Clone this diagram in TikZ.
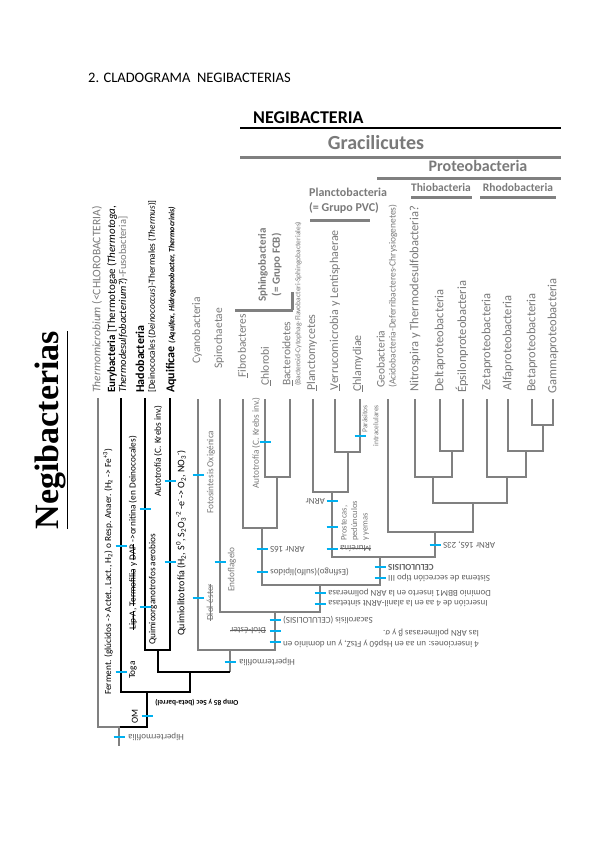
\documentclass[tikz,border=0pt]{standalone}
\usepackage{fontspec}
\setmainfont{Carlito}
\newfontfamily\serifbold{Liberation Serif}

\definecolor{tree gray}{HTML}{808080}
\colorlet{label gray}{tree gray!95!black}
\colorlet{note gray}{black!62}
\definecolor{tick cyan}{HTML}{00B0F0}
\newsavebox\strikebox
\newcommand{\strikeout}[1]{\sbox\strikebox{#1}\rlap{\rule[0.24em]{\wd\strikebox}{0.07em}}\usebox\strikebox}
\tikzset{gline/.style={draw=tree gray, line width=2.8pt},
    kline/.style={draw=black, line width=2.8pt},
    hbar/.style={draw=tree gray, line width=3pt},
    cyantick/.style={draw=tick cyan, line width=2.8pt},
    header/.style={inner sep=0pt, text=label gray},
    leaf/.style={rotate=90, anchor=west, inner sep=0pt, align=left, text=label gray,
        font=\fontsize{12}{12.5}\selectfont},
    basal/.style={leaf, text=black},
    trait/.style={rotate=90, anchor=west, inner sep=0pt, align=left,
        font=\fontsize{9.3}{10}\selectfont},
    flip/.style={rotate=180, anchor=east, inner sep=0pt, align=left, text=note gray,
        font=\fontsize{9}{11.5}\selectfont}}
\newcommand{\ctick}[1]{\draw[cyantick] #1 ++(-5.5,0) -- ++(11,0);}

\begin{document}
\begin{tikzpicture}[x=1pt, y=-1pt]
        \fill[white] (0,0) rectangle (599,848);
        \useasboundingbox (0,0) rectangle (599,848);

        % Title
        \node[anchor=west, inner sep=0pt, font=\fontsize{14.5}{16}\selectfont] (title) at (88,78) {2. CLADOGRAMA\ \ NEGIBACTERIAS};
        \node[rotate=90, inner sep=0pt, font=\serifbold\bfseries\fontsize{34}{36}\selectfont] (big) at (51,430) {\underline{Negibacterias}};

        % Group headers
        \node[anchor=west, inner sep=0pt, font=\bfseries\fontsize{18}{20}\selectfont] (h-negi) at (253,118) {NEGIBACTERIA};
        \draw[line width=1.8pt] (240,128) -- (561,128);
        \node[header, font=\bfseries\fontsize{20}{22}\selectfont] (h-grac) at (376,143) {Gracilicutes};
        \draw[hbar] (240,157) -- (561,157);
        \node[header, font=\bfseries\fontsize{16}{18}\selectfont] (h-proteo) at (478,166) {Proteobacteria};
        \draw[hbar] (377,178) -- (561,178);
        \node[header, font=\bfseries\fontsize{11.5}{13}\selectfont] (h-thio) at (441,188) {Thiobacteria};
        \node[header, font=\bfseries\fontsize{11.5}{13}\selectfont] (h-rhodo) at (518,188) {Rhodobacteria};
        \draw[hbar] (411,197) -- (472,197);
        \draw[hbar] (480,197) -- (556,197);
        \node[header, anchor=north west, align=left, font=\bfseries\fontsize{12}{15}\selectfont] (h-plancto) at (309,188) {Planctobacteria\\(= Grupo PVC)};
        \draw[hbar] (310,220) -- (370,220);
        \node[header, rotate=90, anchor=west, align=center, font=\bfseries\fontsize{11}{14}\selectfont] (h-sphingo) at (270,302) {Sphingobacteria\\(= Grupo FCB)};
        \draw[hbar] (235,310) -- (293,310);
        \draw[hbar] (292,292) -- (292,310);

        % Leaf labels
        \node[basal, text=label gray, font=\fontsize{11.5}{12}\selectfont] (l-thermo) at (97,393) {\textit{Thermomicrobium} (<CHLOROBACTERIA)};
        \node[basal, font=\fontsize{11}{12}\selectfont] (l-eury) at (112,393) {\textbf{Eurybacteria} [Thermotogae (\textit{Thermotoga},};
        \node[basal, font=\fontsize{10.5}{12}\selectfont] (l-eury-b) at (123,393) {\textit{Thermodesulfobacterium}?)\textcolor{label gray}{-Fusobacteria]}};
        \node[basal, font=\bfseries\fontsize{12}{12}\selectfont] (l-hado) at (140,393) {Hadobacteria};
        \node[basal, font=\fontsize{9.3}{10}\selectfont] (l-hado-b) at (152,393) {{[}Deinococales (\textit{Deinococcus})-Thermales (\textit{Thermus})]};
        \node[basal, font=\fontsize{12}{12}\selectfont] (l-aquif) at (171,393) {\textbf{Aquificae} {\fontsize{8}{8}\selectfont\bfseries\itshape (Aquifex, Hidrogenobacter, Thermocrinis)}};
        \node[leaf, font=\fontsize{11.5}{12}\selectfont] (l-cyano) at (197,364) {Cyanobacteria};
        \node[leaf, font=\fontsize{11.5}{12}\selectfont] (l-spiro) at (219,369) {Spirochaetae};
        \node[leaf, font=\fontsize{11.5}{12}\selectfont] (l-fibro) at (243,378) {\underline{F}ibrobacteres};
        \node[leaf, font=\fontsize{11.5}{12}\selectfont] (l-chloro) at (266,386) {\underline{C}hlorobi};
        \node[leaf, font=\fontsize{11.5}{10}\selectfont] (l-bactero) at (292,386) {\underline{B}acteroidetes\\{\fontsize{7.5}{10}\selectfont (Bacteroid-Cytophag-Flavobacteri-Sphingobacteriales)}};
        \node[leaf] (l-plancto) at (312,391) {\underline{P}lanctomycetes};
        \node[leaf] (l-verruco) at (335,391) {\underline{V}errucomicrobia y Lentisphaerae};
        \node[leaf] (l-chlamy) at (358,392) {\underline{C}hlamydiae};
        \node[leaf, font=\fontsize{11.5}{11}\selectfont] (l-geo) at (387,388) {Geobacteria\\{\fontsize{9.5}{11}\selectfont (Acidobacteria-Deferribacteres-Chrysiogenetes)}};
        \node[leaf, font=\fontsize{12.5}{13}\selectfont] (l-nitro) at (415,392) {Nitrospira y Thermodesulfobacteria?};
        \node[leaf, font=\fontsize{12.5}{13}\selectfont] (l-delta) at (440,392) {Deltaproteobacteria};
        \node[leaf, font=\fontsize{12.5}{13}\selectfont] (l-epsilon) at (462,393) {Épsilonproteobacteria};
        \node[leaf, font=\fontsize{12.5}{13}\selectfont] (l-zeta) at (487,391) {Zetaproteobacteria};
        \node[leaf, font=\fontsize{12.5}{13}\selectfont] (l-alfa) at (508,391) {Alfaproteobacteria};
        \node[leaf, font=\fontsize{12.5}{13}\selectfont] (l-beta) at (532,392) {Betaproteobacteria};
        \node[leaf, font=\fontsize{12.5}{13}\selectfont] (l-gamma) at (553,394) {Gammaproteobacteria};

        % Lineages
        \coordinate (thermo) at (98,398);
        \coordinate (eury) at (121,398);
        \coordinate (hado) at (145,398);
        \coordinate (aquif) at (170,398);
        \coordinate (cyano) at (198,399);
        \coordinate (spiro) at (220,399);
        \coordinate (fibro) at (243,399);
        \coordinate (chloro) at (265,399);
        \coordinate (bactero) at (290,399);
        \coordinate (plancto) at (313,399);
        \coordinate (verruco) at (335,399);
        \coordinate (chlamy) at (360,399);
        \coordinate (geo) at (388,399);
        \coordinate (nitro) at (415,399);
        \coordinate (delta) at (440,399);
        \coordinate (epsilon) at (463,399);
        \coordinate (zeta) at (487,399);
        \coordinate (alfa) at (508,399);
        \coordinate (beta) at (532,399);
        \coordinate (gamma) at (553,399);

        % Clade nodes
        \coordinate (fcb-a) at (277,477);
        \coordinate (fcb) at (262,528);
        \coordinate (pvc-a) at (348,452);
        \coordinate (pvc) at (332,492);
        \coordinate (thio-a) at (452,451);
        \coordinate (thio) at (433,477);
        \coordinate (rhodo-a) at (543,425);
        \coordinate (rhodo-b) at (526,451);
        \coordinate (rhodo) at (507,477);
        \coordinate (proteo-a) at (473,503);
        \coordinate (proteo) at (435,532);
        \coordinate (pvc-proteo) at (380,557);
        \coordinate (grac-a) at (320,585);
        \coordinate (grac) at (275,612);
        \coordinate (cyano-grac) at (230,650);
        \coordinate (hado-aquif) at (158,650);
        \coordinate (photo) at (190,672);
        \coordinate (eury-rest) at (147,692);
        \coordinate (root) at (119,727);
        \coordinate (root-end) at (119,746);

        % Gracilicutes
        \draw[gline] (chloro) |- (fcb-a) -| (bactero);
        \draw[gline] (fibro) |- (fcb) -| (fcb-a);
        \draw[gline] (verruco) |- (pvc-a) -| (chlamy);
        \draw[gline] (plancto) |- (pvc) -| (pvc-a);
        \draw[gline] (delta) |- (thio-a) -| (epsilon);
        \draw[gline] (nitro) |- (thio) -| (thio-a);
        \draw[gline] (beta) |- (rhodo-a) -| (gamma);
        \draw[gline] (alfa) |- (rhodo-b) -| (rhodo-a);
        \draw[gline] (zeta) |- (rhodo) -| (rhodo-b);
        \draw[gline] (thio) |- (proteo-a) -| (rhodo);
        \draw[gline] (geo) |- (proteo) -| (proteo-a);
        \draw[gline] (pvc) |- (pvc-proteo) -| (proteo);
        \draw[gline] (fcb) |- (grac-a) -| (pvc-proteo);
        \draw[gline] (spiro) |- (grac) -| (grac-a);
        \draw[gline] (cyano) |- (cyano-grac) -| (grac);
        \draw[gline] (cyano-grac) -- (cyano-grac |- photo);

        % Basal lineages
        \draw[kline] (hado) |- (hado-aquif) -| (aquif);
        \draw[kline] (hado-aquif) |- (cyano-grac |- photo);
        \draw[kline] (eury) |- (eury-rest) -| (photo);
        \draw[kline] (eury-rest) |- (root);
        \draw[gline] (thermo) |- (root) -- (root-end);

        % Upright characters
        \node[trait] (c-ferment) at (108,695) {Ferment. (glúcidos -> Actet., Lact., H\textsubscript{2}) o Resp. Anaer. (H\textsubscript{2} -> Fe\textsuperscript{+3})};
        \node[trait] (c-toga) at (133,679) {Toga};
        \node[trait] (c-om) at (135,724) {OM};
        \node[trait] (c-lipa) at (133,630) {\strikeout{Lip-A}, \strikeout{Termofilia} y \strikeout{DAP} ->ornitina (en Deinococales)};
        \node[trait] (c-quimorg) at (153,645) {Quimioorganotrofos aerobios};
        \node[trait] (c-autotrof) at (158,497) {Autotrofía (C. Krebs inv.)};
        \node[trait, font=\fontsize{10}{11}\selectfont] (c-quimlit) at (181,636) {Quimiolitotrofía (H\textsubscript{2}, S\textsuperscript{0}, S\textsubscript{2}O\textsubscript{3}\textsuperscript{-2} -e\textsuperscript{-}-> O\textsubscript{2}, NO\textsubscript{3}\textsuperscript{-})};
        \node[trait, text=label gray] (c-fotosint) at (211,514) {Fotosíntesis Oxigénica};
        \node[trait, text=label gray] (c-diol) at (210,621) {\strikeout{Diol-éster}};
        \node[trait, text=label gray] (c-endofl) at (232,592) {Endoflagelo};
        \node[trait, text=label gray] (c-autotrof-g) at (256,489) {Autotrofía (C. Krebs inv.)};
        \node[trait, text=label gray, anchor=north west, font=\fontsize{8.5}{10.5}\selectfont] (c-prost) at (341,541) {Prostecas,\\pedúnculos\\y yemas};
        \node[trait, text=label gray, anchor=north east, align=right, font=\fontsize{7.5}{11}\selectfont] (c-parasit) at (362,405) {Parásitos\\intracelulares};

        % Upside-down characters
        \node[flip] (f-hiper) at (128,737) {Hipertermofilia};
        \node[flip, text=black, font=\bfseries\fontsize{7.5}{9}\selectfont] (f-omp) at (155,703) {Omp 85 y Sec (beta-barrel)};
        \node[flip] (f-hiper-b) at (239,662) {Hipertermofilia};
        \node[flip] (f-sacaro) at (283,620) {Sacarolisis (CELULOLISIS)};
        \node[flip, anchor=west] (f-diol) at (266,631) {\strikeout{Diol-éster}};
        \node[flip, anchor=north east] (f-insert) at (283,648) {4 inserciones: un aa en Hsp60 y FtsZ, y un dominio en\\las ARN polimerasas β y σ.};
        \node[flip] (f-dominio) at (328,593) {Dominio BBM1 inserto en la ARN polimerasa};
        \node[flip] (f-alanil) at (328,604) {Inserción de 4 aa en la alanil-ARNt sintetasa};
        \node[flip] (f-arnr16) at (270,549) {ARNr 16S};
        \node[flip] (f-esfingo) at (270,572) {(Esfingo)(sulfo)lípidos};
        \node[flip, anchor=west] (f-arnr) at (325,501) {ARNr};
        \node[flip] (f-mureina) at (340,549) {\strikeout{Mureína}};
        \node[flip, font=\bfseries\fontsize{9}{11}\selectfont] (f-celul) at (388,567) {CELULOLISIS};
        \node[flip] (f-sistema) at (388,578) {Sistema de secreción tipo III};
        \node[flip] (f-arnr23) at (443,545) {ARNr 16S, 23S};

        % Cyan marks
        \ctick{(119,737)} \ctick{(147,716)}
        \ctick{(121,546)} \ctick{(121,672)}
        \ctick{(145,509)} \ctick{(145,607)}
        \ctick{(170,481)} \ctick{(170,562)}
        \ctick{(198,475)} \ctick{(198,598)}
        \ctick{(220,562)} \ctick{(230,662)}
        \ctick{(265,442)} \ctick{(262,549)} \ctick{(262,572)}
        \ctick{(275,620)} \ctick{(275,631)} \ctick{(275,642)}
        \ctick{(320,593)} \ctick{(320,604)}
        \ctick{(332,501)} \ctick{(332,527)} \ctick{(332,549)}
        \ctick{(360,436)}
        \ctick{(380,567)} \ctick{(380,578)}
        \ctick{(435,545)}
    \end{tikzpicture}
\end{document}
